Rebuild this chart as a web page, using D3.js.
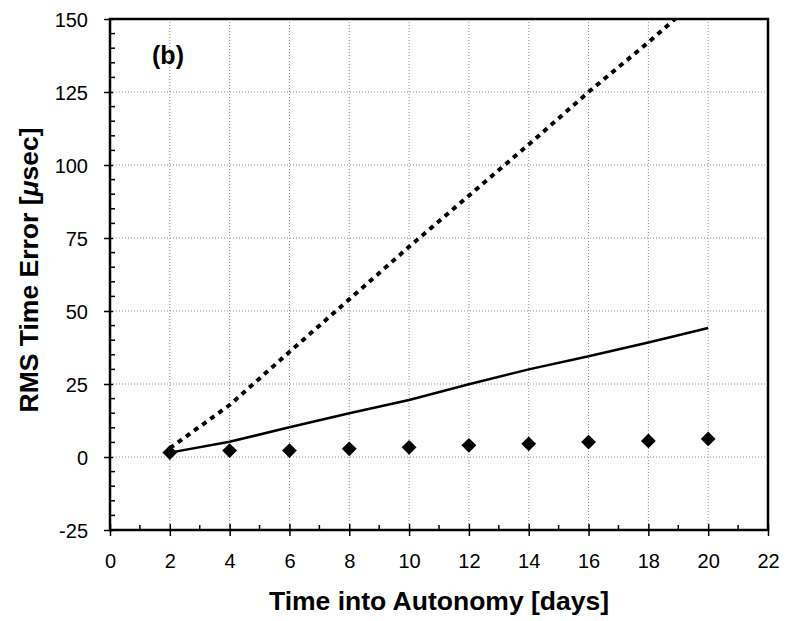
<!DOCTYPE html>
<html>
<head>
<script src="https://d3js.org/d3.v7.min.js"></script>
<style>
  body { margin: 0; background: #fff; }
  text { font-family: "Liberation Sans", Arial, sans-serif; fill: #000; }
</style>
</head>
<body>
<svg id="svg" width="786" height="621"></svg>
<script>
// values
var days = [2, 4, 6, 8, 10, 12, 14, 16, 18, 20];
var dottedErr = [3, 17.8, 36, 54, 72, 89.5, 107, 125, 142, 160];
var solidErr = [1.5, 5.2, 10.2, 15, 19.5, 24.9, 30, 34.5, 39.2, 44.2];
var diamondErr = [1.5, 2.2, 2.2, 2.8, 3.3, 4, 4.5, 5.1, 5.5, 6.2];
var xTicks = [0, 2, 4, 6, 8, 10, 12, 14, 16, 18, 20, 22];
var yTicks = [-25, 0, 25, 50, 75, 100, 125, 150];

var svg = d3.select("#svg");
var pLeft = 110, pRight = 768, pTop = 19, pBottom = 530;

var x = d3.scaleLinear().domain([0, 22]).range([pLeft, pRight]);
var y = d3.scaleLinear().domain([-25, 150]).range([pBottom, pTop]);

svg.append("defs").append("clipPath").attr("id", "clip")
    .append("rect").attr("x", pLeft).attr("y", pTop).attr("width", pRight - pLeft).attr("height", pBottom - pTop);

// gridlines
var grid = svg.append("g").attr("stroke", "#8a8a8a").attr("stroke-width", 1).attr("stroke-dasharray", "1,2");
grid.selectAll(".vg").data(xTicks.filter(function(d) { return d > 0 && d < 22; }))
    .enter().append("line")
    .attr("x1", function(d) { return x(d); }).attr("x2", function(d) { return x(d); })
    .attr("y1", pTop).attr("y2", pBottom);
grid.selectAll(".hg").data(yTicks.filter(function(d) { return d > -25 && d < 150; }))
    .enter().append("line")
    .attr("y1", function(d) { return y(d); }).attr("y2", function(d) { return y(d); })
    .attr("x1", pLeft).attr("x2", pRight);

// frame
svg.append("rect").attr("x", pLeft).attr("y", pTop).attr("width", pRight - pLeft).attr("height", pBottom - pTop)
    .attr("fill", "none").attr("stroke", "#000").attr("stroke-width", 2.5);

// y axis ticks
var yAxis = svg.append("g").attr("transform", "translate(" + pLeft + ",0)")
    .call(d3.axisLeft(y).tickValues(yTicks).tickFormat(function(d) { return String(d); }).tickSize(6).tickPadding(16));
yAxis.attr("font-family", null).attr("font-size", null);
yAxis.select(".domain").remove();
yAxis.selectAll(".tick line").attr("stroke", "#000").attr("stroke-width", 1.5).attr("x2", -6).attr("x1", 3);
yAxis.selectAll(".tick text").attr("font-size", 20).attr("dy", "0.36em");

var yMinor = d3.range(-20, 150, 5).filter(function(d) { return d % 25 != 0; });
svg.append("g").selectAll("line").data(yMinor).enter().append("line")
    .attr("x1", pLeft).attr("x2", pLeft + 5)
    .attr("y1", function(d) { return y(d); }).attr("y2", function(d) { return y(d); })
    .attr("stroke", "#000").attr("stroke-width", 1.5);

// x axis ticks
var xAxis = svg.append("g").attr("transform", "translate(0," + pBottom + ")")
    .call(d3.axisBottom(x).tickValues(xTicks).tickSize(6).tickPadding(18));
xAxis.attr("font-family", null).attr("font-size", null);
xAxis.select(".domain").remove();
xAxis.selectAll(".tick line").attr("stroke", "#000").attr("stroke-width", 1.5).attr("y1", -6).attr("y2", 6);
xAxis.selectAll(".tick text").attr("font-size", 20);

var xMinor = d3.range(1, 22, 2);
svg.append("g").selectAll("line").data(xMinor).enter().append("line")
    .attr("x1", function(d) { return x(d); }).attr("x2", function(d) { return x(d); })
    .attr("y1", pBottom).attr("y2", pBottom - 5)
    .attr("stroke", "#000").attr("stroke-width", 1.5);

// series
var line = d3.line().x(function(d, i) { return x(days[i]); }).y(function(d) { return y(d); });
var plot = svg.append("g").attr("clip-path", "url(#clip)");

plot.append("path").attr("d", line(dottedErr))
    .attr("fill", "none").attr("stroke", "#000").attr("stroke-width", 4)
    .attr("stroke-dasharray", "5,5");

plot.append("path").attr("d", line(solidErr))
    .attr("fill", "none").attr("stroke", "#000").attr("stroke-width", 2.5);

var diamond = d3.symbol().type(d3.symbolSquare).size(110);
svg.append("g").selectAll("path").data(diamondErr).enter().append("path")
    .attr("d", diamond)
    .attr("transform", function(d, i) { return "translate(" + x(days[i]) + "," + y(d) + ") rotate(45)"; })
    .attr("fill", "#000");

// labels
svg.append("text").attr("x", 168).attr("y", 64).attr("text-anchor", "middle")
    .attr("font-size", 25).attr("font-weight", "bold").text("(b)");

svg.append("text").attr("x", (pLeft + pRight) / 2).attr("y", 610).attr("text-anchor", "middle")
    .attr("font-size", 26.5).attr("font-weight", "bold").text("Time into Autonomy [days]");

var yl = svg.append("text").attr("transform", "translate(38,270) rotate(-90)").attr("text-anchor", "middle")
    .attr("font-size", 26.5).attr("font-weight", "bold");
yl.append("tspan").text("RMS Time Error [");
yl.append("tspan").attr("font-style", "italic").text("μ");
yl.append("tspan").text("sec]");
</script>
</body>
</html>
